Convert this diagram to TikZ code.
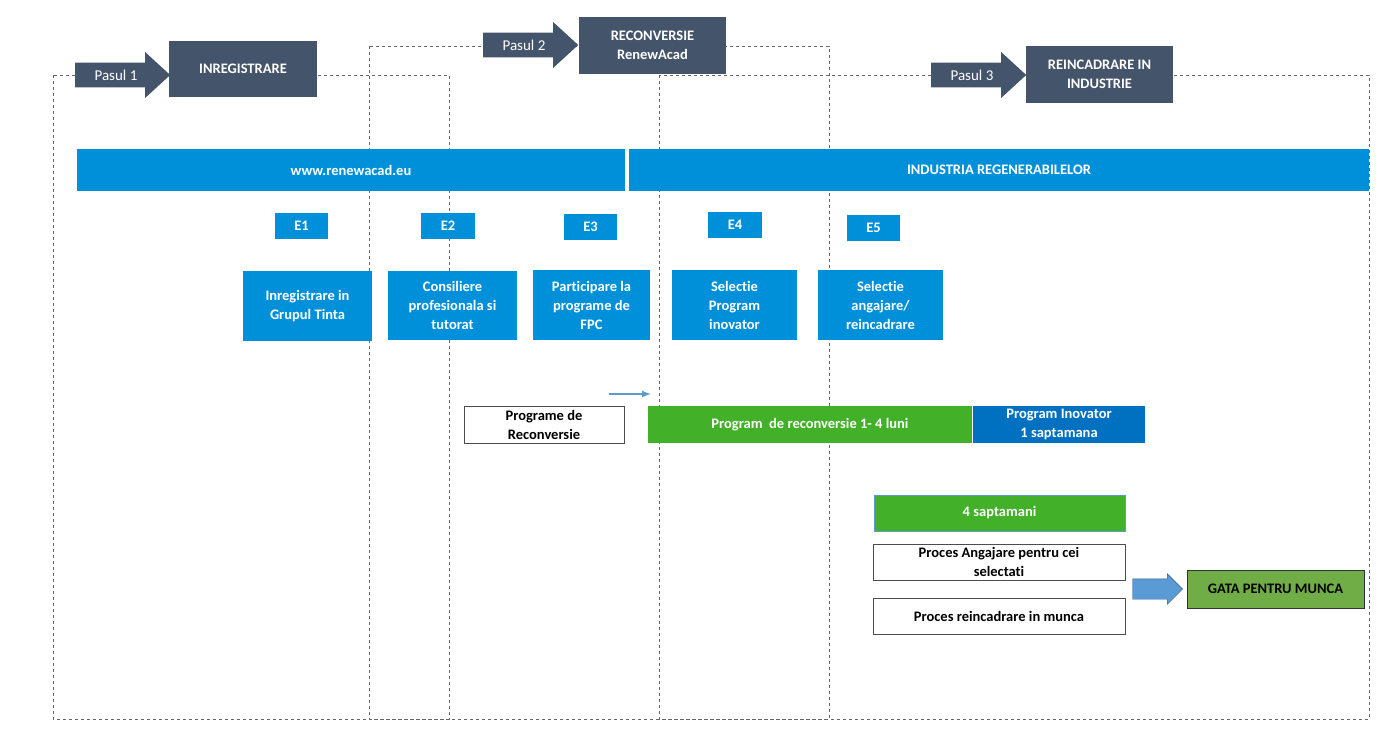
\documentclass[tikz,border=0pt]{standalone}
\usepackage{fontspec}
\setmainfont{Carlito}[Ligatures=NoCommon]
\usetikzlibrary{positioning}
\usetikzlibrary{shapes.arrows}
\definecolor{slate}{HTML}{44546A}
\definecolor{sky}{HTML}{0090DA}
\definecolor{deep}{HTML}{0070C0}
\definecolor{leaf}{HTML}{43B02A}
\definecolor{moss}{HTML}{70AD47}
\definecolor{steel}{HTML}{5B9BD5}
\tikzset
 { box/.style={rectangle, inner sep=1pt, align=center, font=\bfseries\fontsize{14.5}{19}\selectfont}
 , dark/.style={box, fill=slate, text=white}
 , bar/.style={box, fill=sky, text=white}
 , white box/.style={box, draw=black!70, fill=white}
 , frame/.style={draw=black!60, dashed, thin}
 , pasul/.style={single arrow, fill=slate, minimum height=95pt, minimum width=46pt,
     single arrow head extend=10pt, single arrow tip angle=85, inner xsep=0pt, inner ysep=6pt,
     font=\fontsize{15}{17}\selectfont, text=white, anchor=west}
 }
\begin{document}
\begin{tikzpicture}[x=1pt, y=-1pt]
  \useasboundingbox (0,0) rectangle (1394,733);
  % dashed frames
  \draw[frame] (53,75) rectangle (449,719);
  \draw[frame] (369,46) rectangle (829,719);
  \draw[frame] (659,75) rectangle (1369,719);
  % steps
  \node[pasul] (p1) at (75,75) {Pasul 1\hspace{22pt}};
  \node[dark, minimum width=148pt, minimum height=56pt] (inreg) at (243,69) {INREGISTRARE};
  \node[pasul] (p2) at (483,45) {Pasul 2\hspace{22pt}};
  \node[dark, minimum width=147pt, minimum height=57pt] (recon) at (652.5,45.5) {RECONVERSIE\\RenewAcad};
  \node[pasul] (p3) at (931,75) {Pasul 3\hspace{22pt}};
  \node[dark, minimum width=147pt, minimum height=57pt] (reinc) at (1099.5,74.5) {REINCADRARE IN\\INDUSTRIE};
  % bars
  \node[bar, minimum width=548pt, minimum height=42pt] (site) at (351,170) {www.renewacad.eu};
  \node[bar, minimum width=740pt, minimum height=42pt] (ind) at (999,170) {INDUSTRIA REGENERABILELOR};
  % stages
  \node[bar, minimum width=53pt, minimum height=26pt] (e1) at (301.5,226) {E1};
  \node[bar, minimum width=54pt, minimum height=26pt] (e2) at (448,226) {E2};
  \node[bar, minimum width=53pt, minimum height=26pt] (e3) at (590.5,227) {E3};
  \node[bar, minimum width=54pt, minimum height=26pt] (e4) at (735,225) {E4};
  \node[bar, minimum width=53pt, minimum height=26pt] (e5) at (873.5,228) {E5};
  \node[bar, minimum width=129pt, minimum height=70pt] (s1) at (307.5,306) {Inregistrare in\\Grupul Tinta};
  \node[bar, minimum width=129pt, minimum height=69pt] (s2) at (452.5,305.5) {Consiliere\\profesionala si\\tutorat};
  \node[bar, minimum width=117pt, minimum height=70pt] (s3) at (591.5,305) {Participare la\\programe de\\FPC};
  \node[bar, minimum width=125pt, minimum height=70pt] (s4) at (734.5,305) {Selectie\\Program\\inovator};
  \node[bar, minimum width=125pt, minimum height=70pt] (s5) at (880.5,305) {Selectie\\angajare/\\reincadrare};
  % programmes
  \coordinate (a0) at (609,394);
  \coordinate (a1) at (651,394);
  \draw[steel, line width=2pt, -latex] (a0) -- (a1);
  \node[white box, minimum width=160pt, minimum height=37pt] (prog) at (544,424.5) {Programe de\\Reconversie};
  \node[box, fill=leaf, text=white, minimum width=324pt, minimum height=37pt] (rec) at (810,424.5) {Program\ \ de reconversie 1- 4 luni};
  \node[box, fill=deep, text=white, minimum width=172pt, minimum height=37pt] (inov) at (1059,424.5) {Program Inovator\\1 saptamana};
  \node[box, fill=leaf, draw=steel, text=white, minimum width=251pt, minimum height=36pt] (four) at (999.5,513) {4 saptamani};
  \node[white box, minimum width=252pt, minimum height=36pt] (ang) at (999,562) {Proces Angajare pentru cei\\selectati};
  \node[white box, minimum width=252pt, minimum height=36pt] (rei) at (999,616) {Proces reincadrare in munca};
  \node[box, fill=moss, draw=black!80, minimum width=177pt, minimum height=38pt] (gata) at (1275.5,589) {GATA PENTRU MUNCA};
  \node[single arrow, fill=steel, draw=steel!60!black, minimum height=50pt, minimum width=30pt,
    single arrow head extend=5pt, inner xsep=0pt, inner ysep=10pt, anchor=east] (go) at ([xshift=-4pt]gata.west) {};
\end{tikzpicture}
\end{document}
